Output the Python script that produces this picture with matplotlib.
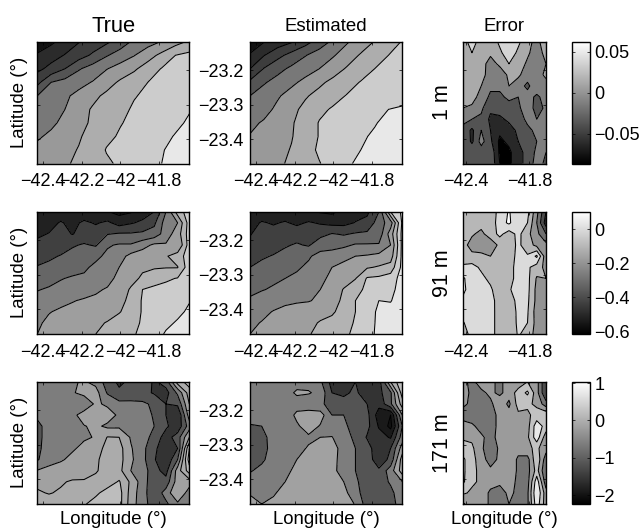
import matplotlib
matplotlib.use("Agg")
import matplotlib.pyplot as plt
import numpy as np
from matplotlib.cm import ScalarMappable
from matplotlib.colors import Normalize

plt.rcParams['font.family'] = ['Liberation Sans', 'DejaVu Sans']

# band values, first row = north edge, first column = west edge
true_1m = [
    [0.2, 0.8, 1.4, 1.95, 2.4, 2.8, 3.45, 4.2, 4.6, 5.05, 5.6, 6.15],
    [1.15, 1.6, 2.05, 2.55, 3.15, 3.9, 4.45, 4.95, 5.6, 6.25, 7.0, 7.25],
    [1.75, 2.3, 3.0, 3.9, 4.45, 4.95, 5.4, 5.85, 6.45, 7.05, 7.25, 7.45],
    [2.7, 4.0, 4.35, 4.7, 5.05, 5.6, 6.15, 6.55, 7.0, 7.2, 7.4, 7.6],
    [4.0, 4.4, 4.85, 5.25, 5.75, 6.2, 6.55, 6.95, 7.15, 7.35, 7.55, 7.75],
    [4.35, 4.65, 5.0, 5.6, 6.1, 6.45, 6.8, 7.1, 7.3, 7.5, 7.7, 7.95],
    [4.6, 4.85, 5.2, 5.7, 6.15, 6.55, 6.95, 7.2, 7.4, 7.6, 7.85, 8.1],
    [4.9, 5.15, 5.55, 5.9, 6.35, 6.8, 7.1, 7.35, 7.55, 7.8, 8.05, 8.25],
    [5.2, 5.5, 5.75, 6.05, 6.45, 7.05, 7.05, 7.3, 7.6, 7.95, 8.2, 8.4],
    [5.4, 5.65, 5.9, 6.15, 6.5, 6.85, 7.15, 7.45, 7.75, 8.0, 8.3, 8.5],
]
est_1m = [
    [0.1, 0.95, 1.45, 1.9, 2.6, 3.45, 4.2, 4.9, 5.45, 6.05, 6.6, 7.05],
    [1.15, 1.95, 2.7, 3.35, 3.95, 4.45, 4.9, 5.5, 6.1, 6.55, 7.0, 7.15],
    [2.0, 3.05, 3.7, 4.2, 4.6, 5.0, 5.55, 6.1, 6.55, 7.0, 7.15, 7.3],
    [3.2, 3.9, 4.35, 4.8, 5.25, 5.8, 6.25, 6.65, 7.05, 7.2, 7.35, 7.55],
    [4.0, 4.45, 4.9, 5.35, 5.9, 6.3, 6.7, 7.05, 7.2, 7.35, 7.55, 7.7],
    [4.4, 4.7, 5.2, 5.75, 6.25, 6.8, 7.1, 7.25, 7.45, 7.75, 8.0, 8.1],
    [4.8, 5.1, 5.5, 5.9, 6.45, 7.05, 7.25, 7.5, 7.75, 7.95, 8.2, 8.3],
    [5.05, 5.3, 5.6, 5.95, 6.45, 7.05, 7.35, 7.65, 7.9, 8.1, 8.3, 8.4],
    [5.2, 5.5, 5.75, 6.05, 6.6, 7.15, 7.5, 7.75, 8.0, 8.25, 8.4, 8.55],
    [5.3, 5.6, 5.85, 6.15, 6.6, 6.95, 7.4, 7.9, 8.15, 8.35, 8.5, 8.65],
]
err_1m = [
    [.02, .03, .02, .01, .03, .05, .03, .01, -.01, .02],
    [.02, .025, .015, .005, .02, .04, .02, .005, -.015, .01],
    [.025, .02, .01, -.01, .005, .025, .015, -.005, -.02, .0],
    [.02, .015, .012, -.015, -.015, .005, .005, -.015, -.01, .005],
    [.015, .012, .0, -.02, -.02, .0, -.015, -.03, -.01, -.01],
    [.005, .01, -.01, -.03, -.03, -.02, -.025, -.015, -.03, -.015],
    [.0, -.005, -.02, -.045, -.04, -.035, -.03, -.01, -.035, -.02],
    [-.02, -.025, -.03, -.055, -.055, -.045, -.035, -.02, -.025, -.02],
    [-.03, -.055, -.025, -.05, -.07, -.06, -.045, -.03, -.02, -.025],
    [-.025, -.055, -.015, -.045, -.08, -.07, -.05, -.035, -.025, -.02],
    [-.03, -.03, -.04, -.03, -.08, -.08, -.06, -.04, -.02, -.025],
    [-.03, -.025, -.05, -.03, -.075, -.08, -.06, -.04, -.015, -.03],
]
true_91m = [
    [1.3, 1.4, 1.4, 1.4, 1.3, 1.2, 1.05, 0.7, 0.9, 1.5, 2.0, 4.0, 6.5, 7.5],
    [1.5, 1.6, 2.1, 1.7, 2.2, 1.9, 2.2, 1.6, 1.9, 2.2, 2.8, 4.5, 5.0, 7.5],
    [1.8, 2.05, 2.4, 1.95, 2.4, 2.5, 2.95, 3.1, 3.1, 3.2, 3.4, 4.5, 5.5, 7.5],
    [2.3, 2.5, 2.6, 2.9, 3.1, 2.9, 3.9, 4.1, 4.1, 4.6, 5.2, 5.1, 5.0, 7.5],
    [2.7, 2.85, 3.05, 3.3, 3.5, 3.8, 4.2, 4.6, 5.3, 5.6, 5.8, 5.9, 6.5, 7.5],
    [3.05, 3.2, 3.45, 3.65, 3.85, 4.2, 4.5, 5.0, 5.6, 5.85, 5.9, 5.95, 5.95, 7.6],
    [3.5, 3.7, 3.95, 4.1, 4.15, 4.35, 4.65, 5.3, 5.7, 6.15, 6.6, 6.85, 7.05, 7.65],
    [3.95, 4.1, 4.25, 4.4, 4.6, 4.85, 5.1, 5.5, 6.1, 7.0, 7.2, 7.3, 7.4, 7.7],
    [4.3, 4.55, 4.75, 4.95, 5.1, 5.2, 5.35, 5.7, 6.25, 7.1, 7.3, 7.45, 7.6, 7.95],
    [4.6, 4.95, 5.15, 5.25, 5.4, 5.5, 5.7, 5.95, 6.3, 7.1, 7.3, 7.5, 7.8, 8.15],
    [4.85, 5.2, 5.35, 5.5, 5.65, 5.85, 6.05, 6.3, 6.7, 7.1, 7.4, 7.8, 8.1, 8.3],
    [5.0, 5.3, 5.5, 5.65, 5.8, 6.0, 6.25, 6.55, 6.85, 7.2, 7.6, 8.1, 8.3, 8.4],
]
est_91m = [
    [1.3, 1.35, 1.4, 1.4, 1.4, 1.2, 0.9, 0.8, 1.3, 1.6, 1.8, 3.0, 7.0, 8.2],
    [1.6, 2.1, 1.9, 2.1, 1.8, 2.1, 1.9, 1.7, 1.7, 2.05, 2.3, 3.5, 4.5, 8.2],
    [1.95, 2.3, 2.4, 2.5, 2.6, 2.5, 2.7, 3.05, 2.9, 3.1, 3.2, 3.4, 5.5, 8.3],
    [2.2, 2.6, 2.7, 2.9, 3.1, 2.9, 3.6, 3.6, 3.8, 4.1, 4.1, 4.1, 5.0, 8.3],
    [2.55, 2.9, 3.05, 3.3, 3.5, 3.9, 4.3, 4.5, 4.7, 5.0, 5.1, 5.3, 5.5, 8.3],
    [3.0, 3.2, 3.5, 3.7, 3.9, 4.15, 4.6, 5.0, 5.3, 5.6, 5.9, 6.1, 6.4, 8.3],
    [3.4, 3.6, 3.85, 4.0, 4.15, 4.35, 4.8, 5.2, 5.6, 5.95, 7.1, 7.2, 7.5, 8.4],
    [3.75, 3.95, 4.1, 4.3, 4.45, 4.65, 5.0, 5.5, 6.05, 6.7, 7.2, 7.5, 7.75, 8.4],
    [4.15, 4.35, 4.6, 4.8, 4.9, 4.95, 5.15, 5.6, 6.2, 7.0, 7.4, 8.0, 7.95, 8.5],
    [4.5, 4.75, 5.05, 5.25, 5.35, 5.45, 5.6, 5.85, 6.4, 7.0, 7.5, 8.2, 8.3, 8.5],
    [4.8, 5.05, 5.3, 5.4, 5.55, 5.7, 6.1, 6.3, 6.6, 7.1, 7.6, 8.2, 8.4, 8.6],
    [5.0, 5.2, 5.4, 5.55, 5.75, 5.95, 6.2, 6.5, 6.8, 7.2, 7.7, 8.2, 8.5, 8.6],
]
err_91m = [
    [-.1, -.1, -.1, -.1, -.02, .06, -.03, -.02, -.22, -.45],
    [-.13, -.12, -.12, -.11, -.0, .07, -.04, -.05, -.25, -.5],
    [-.14, -.14, -.17, -.11, -.02, -.1, -.02, -.12, -.22, -.35],
    [-.12, -.18, -.22, -.2, -.13, -.1, -.03, -.1, -.18, -.22],
    [-.11, -.13, -.12, -.15, -.13, -.1, -.02, -.04, .07, -.22],
    [-.03, -.01, -.07, -.12, -.13, -.08, -.02, -.03, -.1, -.18],
    [.07, -.02, -.02, -.08, -.12, -.08, -.02, -.02, -.16, -.15],
    [.08, -.01, -.01, -.03, -.13, -.06, -.01, -.02, -.18, -.17],
    [.03, .0, .0, -.01, -.1, -.1, -.02, -.03, -.18, -.17],
    [-.01, .0, .0, .0, -.11, -.11, -.03, -.04, -.2, -.2],
    [-.06, .0, .0, .0, -.11, -.12, -.03, -.05, -.19, -.2],
    [-.12, .0, .0, .0, -.11, -.12, -.04, -.08, -.2, -.21],
]
true_171m = [
    [4.6, 4.6, 4.6, 4.9, 5.1, 4.7, 3.5, 2.8, 3.2, 3.8, 2.8, 3.5, 6.5, 7.5],
    [4.7, 4.7, 4.5, 4.9, 5.3, 5.4, 3.9, 3.2, 3.0, 3.3, 2.9, 2.6, 4.2, 6.5],
    [4.6, 4.6, 4.5, 4.3, 4.2, 5.2, 4.8, 4.3, 4.4, 4.2, 3.8, 3.0, 3.2, 6.0],
    [4.3, 4.6, 4.65, 4.7, 5.5, 5.7, 5.5, 4.8, 4.5, 4.4, 3.9, 3.0, 2.0, 5.5],
    [3.6, 4.6, 4.7, 4.7, 4.95, 5.2, 4.8, 4.8, 4.5, 4.4, 4.0, 3.2, 2.3, 4.5],
    [3.6, 4.6, 4.7, 4.8, 4.9, 5.05, 6.05, 6.0, 4.9, 4.4, 3.7, 2.5, 3.5, 6.0],
    [3.7, 4.6, 4.7, 4.9, 5.2, 5.6, 6.3, 6.4, 5.1, 4.3, 3.2, 2.4, 3.0, 8.0],
    [3.9, 4.6, 4.9, 5.2, 5.5, 5.8, 6.5, 6.4, 5.2, 4.3, 3.1, 2.1, 4.0, 8.5],
    [5.05, 5.3, 5.4, 5.5, 5.6, 5.9, 6.4, 6.3, 5.0, 4.5, 3.4, 2.6, 5.5, 7.5],
    [5.8, 5.6, 5.9, 6.1, 6.1, 6.3, 6.5, 7.1, 5.8, 4.5, 3.3, 3.4, 5.5, 5.5],
    [6.1, 5.95, 6.1, 6.4, 6.5, 6.8, 7.4, 7.4, 5.6, 4.4, 3.3, 4.4, 6.0, 4.5],
    [6.3, 6.4, 6.5, 6.7, 6.9, 7.4, 7.5, 7.4, 5.5, 4.4, 3.5, 3.8, 4.8, 4.2],
]
est_171m = [
    [4.5, 4.5, 4.5, 4.5, 4.5, 4.6, 4.2, 2.6, 2.4, 3.0, 2.5, 2.5, 6.0, 8.0],
    [4.5, 4.5, 4.5, 4.5, 5.2, 5.1, 4.7, 3.0, 2.8, 3.2, 2.4, 2.7, 3.8, 7.5],
    [4.5, 4.5, 4.5, 4.5, 4.4, 4.2, 4.1, 3.8, 3.4, 3.2, 3.0, 2.3, 3.8, 6.5],
    [4.5, 4.5, 4.5, 4.2, 5.3, 5.6, 5.5, 4.0, 4.0, 3.6, 3.3, 1.5, 1.0, 5.0],
    [3.9, 4.0, 4.5, 4.5, 4.8, 5.6, 4.9, 4.3, 4.1, 3.8, 3.3, 1.9, 0.7, 4.0],
    [3.4, 3.6, 4.5, 4.5, 4.5, 4.8, 5.0, 5.05, 4.2, 3.9, 2.9, 2.4, 1.9, 4.5],
    [3.3, 3.6, 4.4, 4.5, 4.7, 5.1, 5.5, 5.5, 4.5, 4.0, 3.5, 2.2, 3.0, 5.5],
    [3.4, 3.8, 4.5, 4.6, 5.0, 5.5, 5.6, 5.4, 4.5, 4.0, 3.6, 2.3, 3.3, 6.5],
    [3.9, 4.3, 4.5, 4.7, 5.3, 5.6, 5.6, 5.2, 4.7, 4.0, 3.6, 3.2, 4.5, 6.5],
    [4.5, 4.5, 4.6, 5.0, 5.5, 5.6, 5.6, 5.5, 5.0, 4.2, 3.4, 3.2, 4.2, 5.0],
    [4.95, 4.7, 4.9, 5.3, 5.5, 5.6, 5.7, 5.6, 5.3, 4.4, 3.4, 3.4, 3.6, 5.0],
    [5.2, 5.0, 5.2, 5.4, 5.5, 5.6, 5.7, 5.6, 5.4, 4.95, 3.5, 3.5, 3.6, 4.5],
]
err_171m = [
    [-.4, -.6, -.3, -.4, -.6, -.3, -.3, .0, -.3, -1.5],
    [-.3, -.6, -.6, -.4, -.6, -.3, .2, .6, -.3, -1.5],
    [-.4, -.6, -.8, -.6, -.2, -.6, .2, .1, -.1, -.8],
    [-.7, -.8, -.8, -.8, -.3, -.3, -.1, -.1, .2, .4],
    [-.3, -.4, -.7, -.8, -.3, -.1, -.2, -.2, .8, .3],
    [-.1, -.1, -.4, -.7, -.3, -.1, -.1, -.1, .8, -.3],
    [.3, .1, -.4, -.85, -.4, -.1, -.3, -.1, .1, -.3],
    [.6, .2, -.3, -.7, -.4, -.1, -.6, -.7, .4, -.8],
    [.6, .2, -.2, -.4, -.4, -.1, -.6, -.7, .2, -1.0],
    [.6, .1, -.1, -.3, -.4, -.3, -.6, -.7, .8, -.8],
    [.1, -.1, -.2, -.6, -.7, -.4, -.6, -.6, 1.0, -.3],
    [-.6, -.2, -.2, -.6, -.7, -.5, -.6, -.6, .8, -.3],
]

depths = ["1 m", "91 m", "171 m"]
lat_ticks = [-23.2, -23.3, -23.4]
lat_labels = ["\u221223.2", "\u221223.3", "\u221223.4"]
lon_ticks = [-42.4, -42.2, -42.0, -41.8]
lon_labels = ["\u221242.4", "\u221242.2", "\u221242", "\u221241.8"]
err_lon_ticks = [-42.4, -41.8]
err_lon_labels = ["\u221242.4", "\u221241.8"]

cbar_ranges = [(-0.086, 0.062), (-0.614, 0.103), (-2.24, 1.04)]
cbar_ticks = [[-0.05, 0, 0.05], [-0.6, -0.4, -0.2, 0], [-2, -1, 0, 1]]
cbar_labels = [["\u22120.05", "0", "0.05"],
               ["\u22120.6", "\u22120.4", "\u22120.2", "0"],
               ["\u22122", "\u22121", "0", "1"]]
err_levels = [np.arange(-.1, .076, .025), np.arange(-.65, .16, .1), np.arange(-2.5, 1.1, .5)]

band_levels = np.arange(0, 10)
band_greys = [
    ['.07', '.17', '.24', '.33', '.47', '.6', '.68', '.8', '.91'],
    ['.07', '.13', '.25', '.4', '.5', '.62', '.7', '.8', '.9'],
    ['.07', '.1', '.2', '.33', '.49', '.63', '.67', '.74', '.9'],
]

W, H = 643, 530
COLS = [(37.3, 189.3), (250, 402.3), (462.7, 546)]
ROWS = [(41.7, 163.5), (211.7, 334), (381.7, 504)]
CBAR_X = (571.7, 590)
LON_LIM = (-42.43, -41.643)
LAT_LIM = (-23.471, -23.117)


def addAxes(fig, xs, ys):
    return fig.add_axes([xs[0]/W, 1 - ys[1]/H, (xs[1]-xs[0])/W, (ys[1]-ys[0])/H])


def drawPanel(ax, grid, levels, **kwargs):
    z = np.array(grid)
    lon = np.linspace(LON_LIM[0], LON_LIM[1], z.shape[1])
    lat = np.linspace(LAT_LIM[1], LAT_LIM[0], z.shape[0])
    ax.contourf(lon, lat, z, levels=levels, **kwargs)
    ax.contour(lon, lat, z, levels=levels, colors='k', linewidths=0.75, linestyles='solid')
    ax.set_xlim(LON_LIM)
    ax.set_ylim(LAT_LIM)
    ax.tick_params(direction='in', length=2, width=0.5, top=True, right=True, labelsize=13, pad=5)
    ax.tick_params(axis='x', pad=7)
    ax.set_yticks(lat_ticks)
    ax.set_yticklabels(lat_labels)
    for s in ax.spines.values():
        s.set_linewidth(1.0)


fig = plt.figure(figsize=(W/100, H/100), dpi=100)

truth = [true_1m, true_91m, true_171m]
estimate = [est_1m, est_91m, est_171m]
error = [err_1m, err_91m, err_171m]

for r in range(3):
    ax1 = addAxes(fig, COLS[0], ROWS[r])
    drawPanel(ax1, truth[r], band_levels, colors=band_greys[r])
    ax1.tick_params(labelleft=False)
    ax1.set_ylabel("Latitude (\u00b0)", fontsize=13.4, labelpad=7)

    ax2 = addAxes(fig, COLS[1], ROWS[r])
    drawPanel(ax2, estimate[r], band_levels, colors=band_greys[r])

    ax3 = addAxes(fig, COLS[2], ROWS[r])
    norm = Normalize(*cbar_ranges[r])
    drawPanel(ax3, error[r], err_levels[r], cmap='gray', norm=norm, extend='both')
    ax3.tick_params(labelleft=False)
    ax3.set_ylabel(depths[r], fontsize=15.5, labelpad=7)

    for ax in (ax1, ax2):
        ax.set_xticks(lon_ticks)
        ax.set_xticklabels(lon_labels)
    ax3.set_xticks(err_lon_ticks)
    ax3.set_xticklabels(err_lon_labels)

    if r == 2:
        for ax in (ax1, ax2, ax3):
            ax.tick_params(labelbottom=False)
            ax.set_xlabel("Longitude (\u00b0)", fontsize=13.4, labelpad=5)
    if r == 0:
        ax1.set_title("True", fontsize=15.8, pad=7)
        ax2.set_title("Estimated", fontsize=13.4, pad=8)
        ax3.set_title("Error", fontsize=13.4, pad=8)

    cax = addAxes(fig, CBAR_X, ROWS[r])
    cb = fig.colorbar(ScalarMappable(norm=norm, cmap='gray'), cax=cax)
    cb.set_ticks(cbar_ticks[r], labels=cbar_labels[r])
    cax.tick_params(direction='in', length=2, width=0.5, labelsize=13, pad=3, left=True, right=True)
    cb.outline.set_linewidth(1.0)

fig.savefig("out.png", dpi=100)
